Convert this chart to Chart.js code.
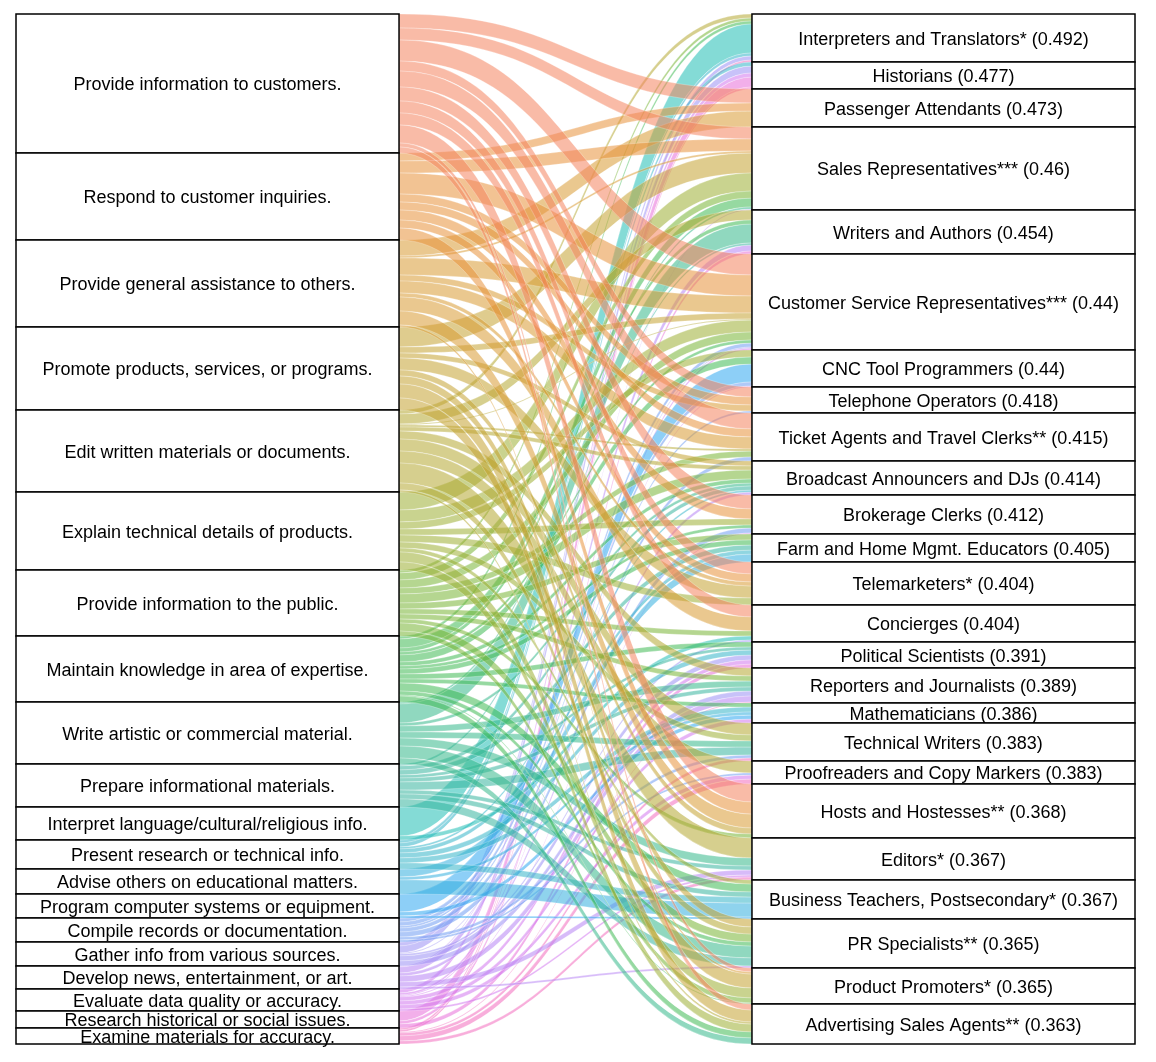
<!DOCTYPE html>
<html>
<head>
<meta charset="utf-8">
<script src="https://cdn.jsdelivr.net/npm/chart.js@4/dist/chart.umd.min.js"></script>
<style>
  body { margin: 0; background: #fff; }
  canvas { display: block; }
</style>
</head>
<body>
<canvas id="chart" width="1156" height="1062"></canvas>
<script>
// left column: tasks
const tasks = [
  "Provide information to customers.",
  "Respond to customer inquiries.",
  "Provide general assistance to others.",
  "Promote products, services, or programs.",
  "Edit written materials or documents.",
  "Explain technical details of products.",
  "Provide information to the public.",
  "Maintain knowledge in area of expertise.",
  "Write artistic or commercial material.",
  "Prepare informational materials.",
  "Interpret language/cultural/religious info.",
  "Present research or technical info.",
  "Advise others on educational matters.",
  "Program computer systems or equipment.",
  "Compile records or documentation.",
  "Gather info from various sources.",
  "Develop news, entertainment, or art.",
  "Evaluate data quality or accuracy.",
  "Research historical or social issues.",
  "Examine materials for accuracy."
];

// right column: occupations and their scores
const occupations = [
  "Interpreters and Translators*", "Historians", "Passenger Attendants",
  "Sales Representatives***", "Writers and Authors",
  "Customer Service Representatives***", "CNC Tool Programmers",
  "Telephone Operators", "Ticket Agents and Travel Clerks**",
  "Broadcast Announcers and DJs", "Brokerage Clerks",
  "Farm and Home Mgmt. Educators", "Telemarketers*", "Concierges",
  "Political Scientists", "Reporters and Journalists", "Mathematicians",
  "Technical Writers", "Proofreaders and Copy Markers",
  "Hosts and Hostesses**", "Editors*", "Business Teachers, Postsecondary*",
  "PR Specialists**", "Product Promoters*", "Advertising Sales Agents**"
];
const scores = [
  "0.492", "0.477", "0.473", "0.46", "0.454", "0.44", "0.44", "0.418",
  "0.415", "0.414", "0.412", "0.405", "0.404", "0.404", "0.391", "0.389",
  "0.386", "0.383", "0.383", "0.368", "0.367", "0.367", "0.365", "0.365",
  "0.363"
];

// task colours (drawn with transparency)
const taskColors = [
  "#f4845f", "#e8913a", "#d99a33", "#c4a332", "#b5a731", "#9cae33",
  "#78b534", "#3fba54", "#35b88a", "#36b59e", "#1fbdb4", "#34b4c8",
  "#33aede", "#2fa8f0", "#6f9cf2", "#9b8ff4", "#b783f4", "#d276ee",
  "#e86ed8", "#f36bbd"
];

// flows: [occupation, task, value]
const links = [
  [0,4,4],[0,6,3],[0,7,3],[0,10,29],[0,11,3],[0,15,4],[0,19,2],
  [1,18,10],[1,15,7],[1,17,4],[1,11,4],[1,19,2],
  [2,0,14],[2,2,16],[2,1,8],
  [3,0,12],[3,1,12],[3,3,20],[3,5,18],[3,7,9],[3,2,2],[3,16,1],[3,6,7],[3,8,2],
  [4,4,10],[4,8,19],[4,16,6],[4,7,4],[4,18,3],[4,9,2],
  [5,0,21],[5,1,21],[5,2,17],[5,5,12],[5,6,8],[5,3,6],[5,14,4],[5,7,3],[5,17,2],[5,15,1],[5,4,1],
  [6,13,18],[6,5,7],[6,7,7],[6,14,4],[6,17,1],
  [7,0,10],[7,1,8],[7,2,6],[7,14,2],
  [8,0,16],[8,1,8],[8,2,12],[8,6,6],[8,14,4],[8,4,2],
  [9,3,5],[9,6,9],[9,16,3],[9,8,3],[9,11,2],[9,7,4],[9,9,4],[9,4,4],
  [10,0,14],[10,1,10],[10,5,6],[10,14,5],[10,17,1],[10,7,3],
  [11,12,8],[11,11,4],[11,6,6],[11,9,5],[11,7,5],
  [12,0,12],[12,1,8],[12,3,12],[12,5,7],[12,2,4],
  [13,0,12],[13,2,14],[13,6,5],[13,10,4],[13,15,2],
  [14,18,4],[14,15,5],[14,11,5],[14,17,4],[14,7,5],[14,9,3],
  [15,15,5],[15,4,8],[15,8,6],[15,16,6],[15,6,5],[15,9,4],[15,19,1],
  [16,17,4],[16,11,5],[16,13,4],[16,7,4],[16,12,3],
  [17,4,12],[17,5,6],[17,9,8],[17,8,6],[17,14,3],[17,19,3],
  [18,4,12],[18,19,5],[18,17,4],[18,14,2],
  [19,0,18],[19,2,14],[19,1,12],[19,3,6],[19,6,4],
  [20,4,20],[20,8,8],[20,19,3],[20,16,5],[20,9,4],[20,17,2],
  [21,12,14],[21,11,6],[21,7,8],[21,9,5],[21,5,4],[21,13,2],
  [22,3,8],[22,8,12],[22,9,8],[22,6,8],[22,4,7],[22,16,2],[22,7,4],
  [23,3,14],[23,5,10],[23,0,4],[23,6,5],[23,2,2],[23,7,1],
  [24,3,12],[24,5,8],[24,0,6],[24,7,6],[24,8,6],[24,4,2]
];

const nodeWidth = 0.3423; // fraction of x range

function hexToRgba(hex, a){
    let r = parseInt(hex.slice(1,3),16);
    let g = parseInt(hex.slice(3,5),16);
    let b = parseInt(hex.slice(5,7),16);
    return "rgba(" + r + "," + g + "," + b + "," + a + ")";
}

// stack node values down each column
function stackNodes(count, key){
    let sizes = new Array(count).fill(0);
    links.forEach(l => { sizes[l[key]] += l[2]; });
    let nodes = [];
    let y = 0;
    for (let i = 0; i < count; i++){
        nodes.push({start: y, end: y + sizes[i]});
        y += sizes[i];
    }
    return nodes;
}

const leftNodes = stackNodes(tasks.length, 1);
const rightNodes = stackNodes(occupations.length, 0);
const total = leftNodes[leftNodes.length - 1].end;

// position of each flow band at both ends
function layoutLinks(){
    let bands = links.map(l => ({occ: l[0], task: l[1], value: l[2]}));
    let leftOffset = leftNodes.map(n => n.start);
    let rightOffset = rightNodes.map(n => n.start);
    // at a task, bands ordered by occupation position
    let bySource = bands.slice().sort((a, b) => a.task - b.task || a.occ - b.occ);
    bySource.forEach(b => { b.y0 = leftOffset[b.task]; leftOffset[b.task] += b.value; });
    // at an occupation, bands ordered by task position
    let byTarget = bands.slice().sort((a, b) => a.occ - b.occ || a.task - b.task);
    byTarget.forEach(b => { b.y1 = rightOffset[b.occ]; rightOffset[b.occ] += b.value; });
    return bands;
}
const bands = layoutLinks();

const sankeyPlugin = {
    id: "sankey",
    afterDatasetsDraw(chart){
        const ctx = chart.ctx;
        const xs = chart.scales.x;
        const ys = chart.scales.y;
        const x0 = xs.getPixelForValue(nodeWidth);
        const x1 = xs.getPixelForValue(1 - nodeWidth);
        const xm = (x0 + x1) / 2;

        // links
        bands.forEach(b => {
            let a0 = ys.getPixelForValue(b.y0), a1 = ys.getPixelForValue(b.y0 + b.value);
            let c0 = ys.getPixelForValue(b.y1), c1 = ys.getPixelForValue(b.y1 + b.value);
            ctx.beginPath();
            ctx.moveTo(x0, a0);
            ctx.bezierCurveTo(xm, a0, xm, c0, x1, c0);
            ctx.lineTo(x1, c1);
            ctx.bezierCurveTo(xm, c1, xm, a1, x0, a1);
            ctx.closePath();
            ctx.fillStyle = hexToRgba(taskColors[b.task], 0.55);
            ctx.fill();
            ctx.strokeStyle = "rgba(255,255,255,0.5)";
            ctx.lineWidth = 0.5;
            ctx.stroke();
        });

        // nodes
        function drawNode(left, right, n, label){
            let px0 = xs.getPixelForValue(left), px1 = xs.getPixelForValue(right);
            let py0 = ys.getPixelForValue(n.start), py1 = ys.getPixelForValue(n.end);
            ctx.fillStyle = "#fff";
            ctx.fillRect(px0, py0, px1 - px0, py1 - py0);
            ctx.strokeStyle = "#000";
            ctx.lineWidth = 1.5;
            ctx.strokeRect(px0, py0, px1 - px0, py1 - py0);
            ctx.fillStyle = "#000";
            ctx.font = "18px 'Liberation Sans', Arial, sans-serif";
            ctx.textAlign = "center";
            ctx.textBaseline = "middle";
            ctx.fillText(label, (px0 + px1) / 2, (py0 + py1) / 2 + 2);
        }
        leftNodes.forEach((n, i) => drawNode(0, nodeWidth, n, tasks[i]));
        rightNodes.forEach((n, i) => drawNode(1 - nodeWidth, 1, n, occupations[i] + " (" + scores[i] + ")"));
    }
};

const chart = new Chart(document.getElementById("chart"), {
    type: "scatter",
    data: { datasets: [] },
    options: {
        responsive: false,
        animation: false,
        layout: { padding: { left: 16, right: 21, top: 14, bottom: 18 } },
        scales: {
            x: { type: "linear", min: 0, max: 1, display: false },
            y: { type: "linear", min: 0, max: total, reverse: true, display: false }
        },
        plugins: { legend: { display: false }, tooltip: { enabled: false } }
    },
    plugins: [sankeyPlugin]
});
</script>
</body>
</html>
